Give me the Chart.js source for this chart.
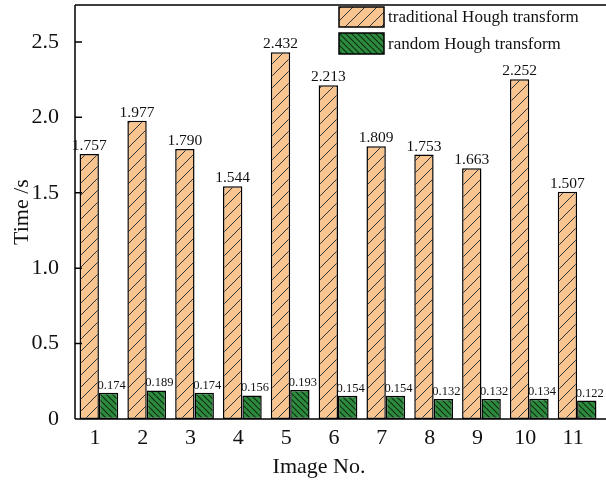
<!DOCTYPE html>
<html>
<head>
<meta charset="utf-8">
<script src="https://cdn.jsdelivr.net/npm/chart.js@4/dist/chart.umd.min.js"></script>
<style>
html,body{margin:0;padding:0;background:#fff;}
canvas{display:block;}
</style>
</head>
<body>
<canvas id="c" width="606" height="484"></canvas>
<script>
const categories = ['1','2','3','4','5','6','7','8','9','10','11'];
const traditional = [1.757,1.977,1.790,1.544,2.432,2.213,1.809,1.753,1.663,2.252,1.507];
const randomHough = [0.174,0.189,0.174,0.156,0.193,0.154,0.154,0.132,0.132,0.134,0.122];
const yTicks = [0,0.5,1.0,1.5,2.0,2.5];
const seriesNames = ['traditional Hough transform','random Hough transform'];

const FONT = '"Liberation Serif", "Times New Roman", serif';

function makePattern(size, bg, line, lw, dir){
  const c = document.createElement('canvas');
  c.width = size; c.height = size;
  const g = c.getContext('2d');
  g.fillStyle = bg; g.fillRect(0,0,size,size);
  g.strokeStyle = line; g.lineWidth = lw;
  g.beginPath();
  if(dir === '/'){
    for(let k=-1;k<=1;k++){
      g.moveTo(k*size, size); g.lineTo(k*size+size, 0);
    }
  } else {
    for(let k=-1;k<=1;k++){
      g.moveTo(k*size, 0); g.lineTo(k*size+size, size);
    }
  }
  g.stroke();
  return g.createPattern(c,'repeat');
}
const orangePat = makePattern(12, '#F8C590', '#333333', 1, '/');
const greenPat = makePattern(6, '#2E8B3E', '#0C2E14', 1.2, '\\');

const framePlugin = {
  id:'frame',
  afterDraw(chart){
    const {ctx, chartArea:a, scales} = chart;
    ctx.save();
    ctx.strokeStyle = '#000'; ctx.lineWidth = 1.5;
    ctx.beginPath();
    ctx.moveTo(a.left, a.top); ctx.lineTo(chart.width, a.top);
    ctx.moveTo(a.left, a.top); ctx.lineTo(a.left, a.bottom);
    ctx.moveTo(a.left, a.bottom); ctx.lineTo(chart.width, a.bottom);
    yTicks.forEach(v=>{
      const y = scales.y.getPixelForValue(v);
      ctx.moveTo(a.left, y); ctx.lineTo(a.left+7, y);
    });
    ctx.stroke();

    chart.data.datasets.forEach((ds,di)=>{
      const meta = chart.getDatasetMeta(di);
      ctx.fillStyle = '#111';
      ctx.textAlign = 'center';
      ctx.textBaseline = 'alphabetic';
      ctx.font = (di===0 ? '15.5px ' : '12.5px ') + FONT;
      meta.data.forEach((bar,i)=>{
        const v = ds.data[i];
        ctx.fillText(v.toFixed(3), bar.x + (di===1?3:0), bar.y - 4);
      });
    });

    const items = [
      {pat: orangePat, y: 7, h: 20},
      {pat: greenPat, y: 33, h: 21}
    ];
    items.forEach((it,i)=>{
      ctx.fillStyle = it.pat;
      ctx.fillRect(339, it.y, 45, it.h);
      ctx.strokeStyle = '#000'; ctx.lineWidth = 1.5;
      ctx.strokeRect(339, it.y, 45, it.h);
      ctx.fillStyle = '#111';
      ctx.font = '17px ' + FONT;
      ctx.textAlign = 'left'; ctx.textBaseline = 'middle';
      ctx.fillText(chart.data.datasets[i].label, 388, it.y + it.h/2 + 1);
    });

    ctx.fillStyle = '#111';
    ctx.font = '22px ' + FONT;
    ctx.textAlign = 'center'; ctx.textBaseline = 'middle';
    ctx.fillText('Image No.', 319, 467);
    ctx.save();
    ctx.translate(22, (a.top + a.bottom)/2);
    ctx.rotate(-Math.PI/2);
    ctx.fillText('Time /s', 0, 0);
    ctx.restore();
    ctx.restore();
  }
};

new Chart(document.getElementById('c'), {
  type: 'bar',
  data: {
    labels: categories,
    datasets: [
      {label: seriesNames[0], data: traditional, backgroundColor: orangePat, borderColor:'#000', borderWidth:1.5, borderSkipped:false, barPercentage:1.0, categoryPercentage:0.81},
      {label: seriesNames[1], data: randomHough, backgroundColor: greenPat, borderColor:'#000', borderWidth:1.5, borderSkipped:false, barPercentage:1.0, categoryPercentage:0.81}
    ]
  },
  options: {
    responsive:false,
    devicePixelRatio:1,
    animation:false,
    layout:{padding:{top:5, right:5, left:0, bottom:0}},
    plugins:{legend:{display:false}, tooltip:{enabled:false}},
    scales:{
      x:{
        grid:{display:false, drawTicks:false},
        border:{display:false},
        ticks:{color:'#111', font:{family:FONT, size:22}, padding:6, labelOffset:-4, maxRotation:0},
        afterFit(s){ s.height = 65; s.paddingLeft = 0; s.paddingRight = 0; }
      },
      y:{
        min:0, max:2.745,
        grid:{display:false, drawTicks:false},
        border:{display:false},
        afterBuildTicks(s){ s.ticks = yTicks.map(v=>({value:v})); },
        ticks:{color:'#111', font:{family:FONT, size:22}, padding:16,
          callback:(v)=> v===0 ? '0' : Number(v).toFixed(1)},
        afterFit(s){ s.width = 75; s.paddingTop = 0; s.paddingBottom = 0; }
      }
    }
  },
  plugins:[framePlugin]
});
</script>
</body>
</html>
